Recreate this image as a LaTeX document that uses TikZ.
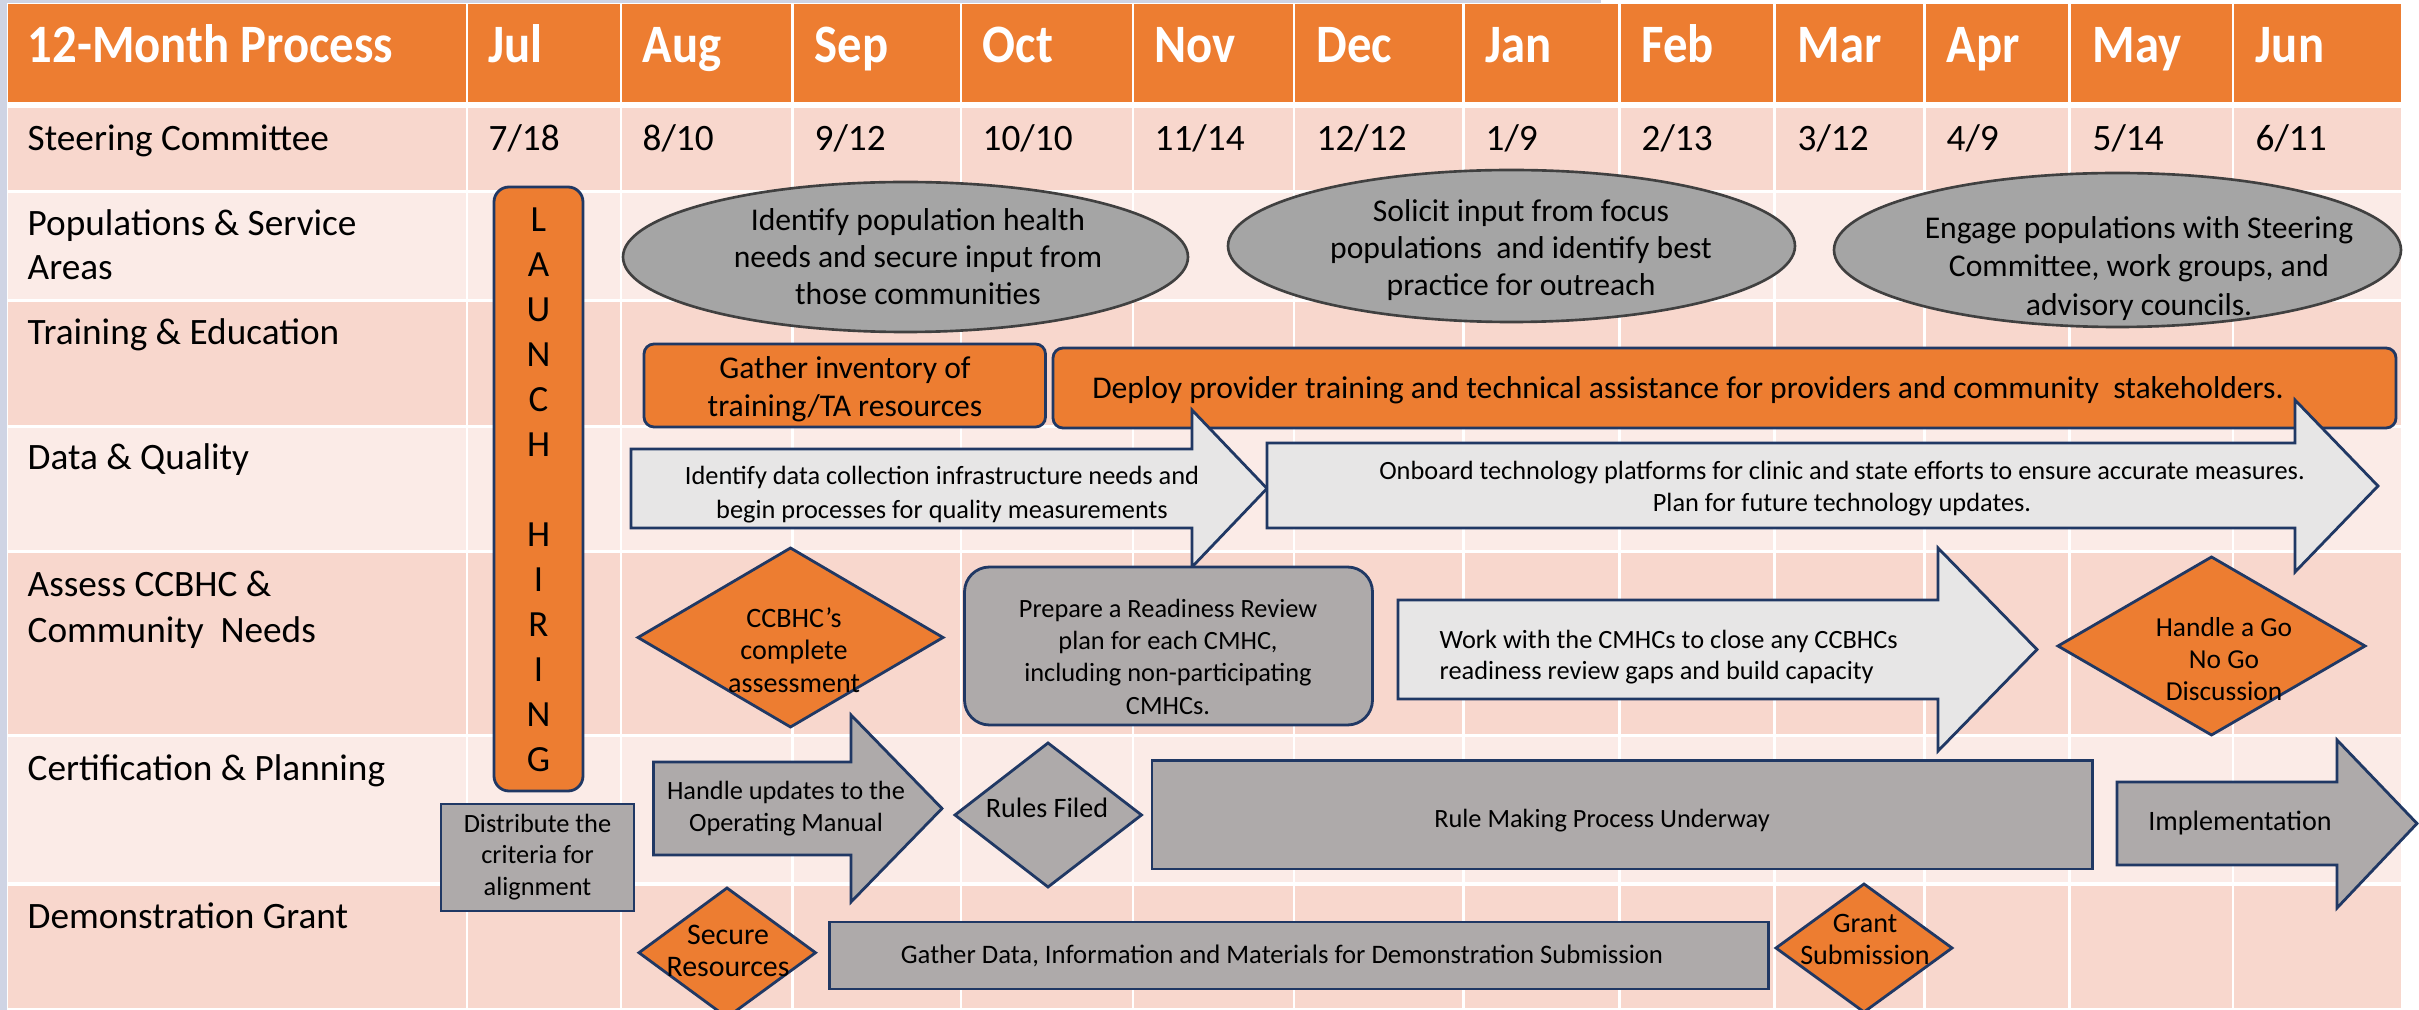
\documentclass[tikz,border=0pt]{standalone}
\usepackage{fontspec}
\setmainfont{Carlito}
\newfontfamily\hdrfont{Carlito}[FakeStretch=0.9]
\definecolor{orng}{RGB}{237,125,49}
\definecolor{navy}{RGB}{32,56,100}
\definecolor{shapegrey}{RGB}{174,170,170}
\definecolor{lightgrey}{RGB}{231,230,230}
\definecolor{ellgrey}{RGB}{165,165,165}
\definecolor{ellborder}{RGB}{64,64,64}
\definecolor{salmon}{RGB}{248,215,205}
\definecolor{rowlight}{RGB}{251,235,231}
\definecolor{lav}{RGB}{207,212,228}
\newcommand\fs[2]{\fontsize{#1}{#2}\selectfont}
\begin{document}
\begin{tikzpicture}[x=0.1mm,y=-0.1mm,
  lbl/.style={anchor=base west, inner sep=0, align=left, font=\fs{10.6}{12.8}},
  hdr/.style={anchor=base west, inner sep=0, text=white, font=\hdrfont\bfseries\fs{15.4}{18}},
  txt/.style={inner sep=0, align=center, text=black},
  navyline/.style={draw=navy, line width=0.8pt, line join=miter},
  orangebox/.style={navyline, fill=orng},
  greybox/.style={navyline, fill=shapegrey},
  lightbox/.style={navyline, fill=lightgrey},
  ellbox/.style={draw=ellborder, line width=0.75pt, fill=ellgrey},
  gridline/.style={draw=white, line width=0.72pt}]
\useasboundingbox (0,0) rectangle (2419,1010);
\clip (0,0) rectangle (2419,1010);
\fill[white] (0,0) rectangle (2419,1010);
\fill[lav] (0,0) rectangle (1601,3);
\fill[lav] (0,0) rectangle (7,1010);
% rows
\fill[orng] (8,4) rectangle (2401,102);
\fill[salmon] (8,108.5) rectangle (2401,190.5);
\fill[rowlight] (8,193.5) rectangle (2401,299.5);
\fill[salmon] (8,302) rectangle (2401,425.5);
\fill[rowlight] (8,428.5) rectangle (2401,550);
\fill[salmon] (8,553.5) rectangle (2401,733.5);
\fill[rowlight] (8,736.5) rectangle (2401,882);
\fill[salmon] (8,885.5) rectangle (2401,1008);
\foreach \cx in {467,621,792.5,961,1133,1294,1463.5,1619.5,1774.5,1924.5,2069.5,2233}
  \draw[gridline] (\cx,4) -- (\cx,1008);
% header
\node[hdr] (h0) at (27,63) {12-Month Process};
\node[hdr] (h1) at (488,63) {Jul};
\node[hdr] (h2) at (642,63) {Aug};
\node[hdr] (h3) at (814,63) {Sep};
\node[hdr] (h4) at (982,63) {Oct};
\node[hdr] (h5) at (1154,63) {Nov};
\node[hdr] (h6) at (1316,63) {Dec};
\node[hdr] (h7) at (1485,63) {Jan};
\node[hdr] (h8) at (1641,63) {Feb};
\node[hdr] (h9) at (1797,63) {Mar};
\node[hdr] (h10) at (1946,63) {Apr};
\node[hdr] (h11) at (2092,63) {May};
\node[hdr] (h12) at (2255,63) {Jun};
% steering row
\node[lbl] (s0) at (27,151) {Steering Committee};
\node[lbl] (s1) at (488,151) {7/18};
\node[lbl] (s2) at (642,151) {8/10};
\node[lbl] (s3) at (814,151) {9/12};
\node[lbl] (s4) at (982,151) {10/10};
\node[lbl] (s5) at (1154,151) {11/14};
\node[lbl] (s6) at (1316,151) {12/12};
\node[lbl] (s7) at (1485,151) {1/9};
\node[lbl] (s8) at (1641,151) {2/13};
\node[lbl] (s9) at (1797,151) {3/12};
\node[lbl] (s10) at (1946,151) {4/9};
\node[lbl] (s11) at (2092,151) {5/14};
\node[lbl] (s12) at (2255,151) {6/11};
% row labels (multi-line nodes: base = last line)
\node[lbl] (l1) at (27,280) {Populations \& Service\\Areas};
\node[lbl] (l2) at (27,345) {Training \& Education};
\node[lbl] (l3) at (27,470) {Data \& Quality};
\node[lbl, font=\fs{10.6}{13.1}] (l4) at (27,643) {Assess CCBHC \&\\Community\ \ Needs};
\node[lbl] (l5) at (27,780) {Certification \& Planning};
\node[lbl] (l6) at (27,928) {Demonstration Grant};
% launch hiring
\draw[orangebox, rounded corners=1.5mm] (494,187) rectangle (583,791);
\node[inner sep=0, anchor=base, align=center, font=\fs{10.5}{12.8}] (launch) at (538.5,771.5) {L\\A\\U\\N\\C\\H\\~\\H\\I\\R\\I\\N\\G};
% populations
\draw[ellbox] (905.5,257) ellipse [x radius=282.5, y radius=75];
\node[txt, font=\fs{9}{10.5}] (pop1) at (918,257) {Identify population health\\needs and secure input from\\those communities};
\draw[ellbox] (1511.5,246) ellipse [x radius=283.5, y radius=76];
\node[txt, font=\fs{9}{10.5}] (pop2) at (1521,250) {Solicit input from focus\\populations\ \ and identify best\\practice for outreach};
\draw[ellbox] (2117.5,250) ellipse [x radius=283.5, y radius=77];
\node[txt, font=\fs{9}{10.9}] (pop3) at (2139,268.5) {Engage populations with Steering\\Committee, work groups, and\\advisory councils.};
% training
\draw[orangebox, rounded corners=1mm] (644,344) rectangle (1045.5,427);
\node[txt, font=\fs{9}{10.8}] (gather) at (845,389) {Gather inventory of\\training/TA resources};
\draw[orangebox, rounded corners=1mm] (1053,348) rectangle (2396,428);
\node[txt, font=\fs{9}{10.8}] (deploy) at (1688,390) {Deploy provider training and technical assistance for providers and community\ \ stakeholders.};
% data
\draw[lightbox] (631,449) -- (1192,449) -- (1192,410) -- (1267,488.5) -- (1192,567) -- (1192,528) -- (631,528) -- cycle;
\node[txt, font=\fs{7.5}{9.7}] (dataA) at (942,495) {Identify data collection infrastructure needs and\\begin processes for quality measurements};
\draw[lightbox] (1267,443) -- (2295,443) -- (2295,400) -- (2378,486) -- (2295,572) -- (2295,528) -- (1267,528) -- cycle;
\node[txt, font=\fs{7.5}{9.1}] (dataB) at (1842,489) {Onboard technology platforms for clinic and state efforts to ensure accurate measures.\\Plan for future technology updates.};
% assess
\draw[orangebox] (638,637.5) -- (790.5,548) -- (943,637.5) -- (790.5,727) -- cycle;
\node[txt, font=\fs{8}{9.2}] (ccbhc) at (794,650) {CCBHC’s\\complete\\assessment};
\draw[greybox, rounded corners=2.5mm] (964.5,567) rectangle (1372.5,725);
\node[txt, font=\fs{7.5}{9.2}] (prep) at (1168,656.5) {Prepare a Readiness Review\\plan for each CMHC,\\including non-participating\\CMHCs.};
\draw[lightbox] (1398,600) -- (1938,600) -- (1938,548) -- (2037,649.5) -- (1938,751) -- (1938,699) -- (1398,699) -- cycle;
\node[txt, align=left, anchor=west, font=\fs{7.5}{8.8}] (work) at (1439,657.5) {Work with the CMHCs to close any CCBHCs\\readiness review gaps and build capacity};
\draw[orangebox] (2058,646) -- (2211.5,557) -- (2365,646) -- (2211.5,735) -- cycle;
\node[txt, font=\fs{7.8}{9.1}] (gonogo) at (2224,659) {Handle a Go\\No Go\\Discussion};
% certification
\draw[greybox] (441,804) rectangle (634,911);
\node[txt, font=\fs{7.5}{9}] (distr) at (537.5,857) {Distribute the\\criteria for\\alignment};
\draw[greybox] (653.5,762) -- (851,762) -- (851,715) -- (942,808.5) -- (851,902) -- (851,855) -- (653.5,855) -- cycle;
\node[txt, font=\fs{7.5}{9.1}] (updates) at (786,809) {Handle updates to the\\Operating Manual};
\draw[greybox] (955,815) -- (1048,743) -- (1141.5,815) -- (1048,887) -- cycle;
\node[txt, font=\fs{8}{9}] (rules) at (1047,808) {Rules Filed};
\draw[greybox] (1152,760.5) rectangle (2092.5,869);
\node[txt, font=\fs{7.5}{9}] (rulemaking) at (1602,821) {Rule Making Process Underway};
\draw[greybox] (2117,782) -- (2337,782) -- (2337,740) -- (2417,823.5) -- (2337,908) -- (2337,865) -- (2117,865) -- cycle;
\node[txt, font=\fs{8}{9}] (impl) at (2240,823) {Implementation};
% demonstration
\draw[orangebox] (639,952.7) -- (727,888) -- (815.5,952.7) -- (727,1017.4) -- cycle;
\node[txt, font=\fs{8.5}{9.1}] (secure) at (728,951) {Secure\\Resources};
\draw[greybox] (829.5,922) rectangle (1768.5,989);
\node[txt, font=\fs{7.6}{9}] (gdata) at (1282,956) {Gather Data, Information and Materials for Demonstration Submission};
\draw[orangebox] (1776,948) -- (1864,884) -- (1952,948) -- (1864,1012) -- cycle;
\node[txt, font=\fs{8}{9.1}] (grant) at (1865,939) {Grant\\Submission};
\end{tikzpicture}
\end{document}
